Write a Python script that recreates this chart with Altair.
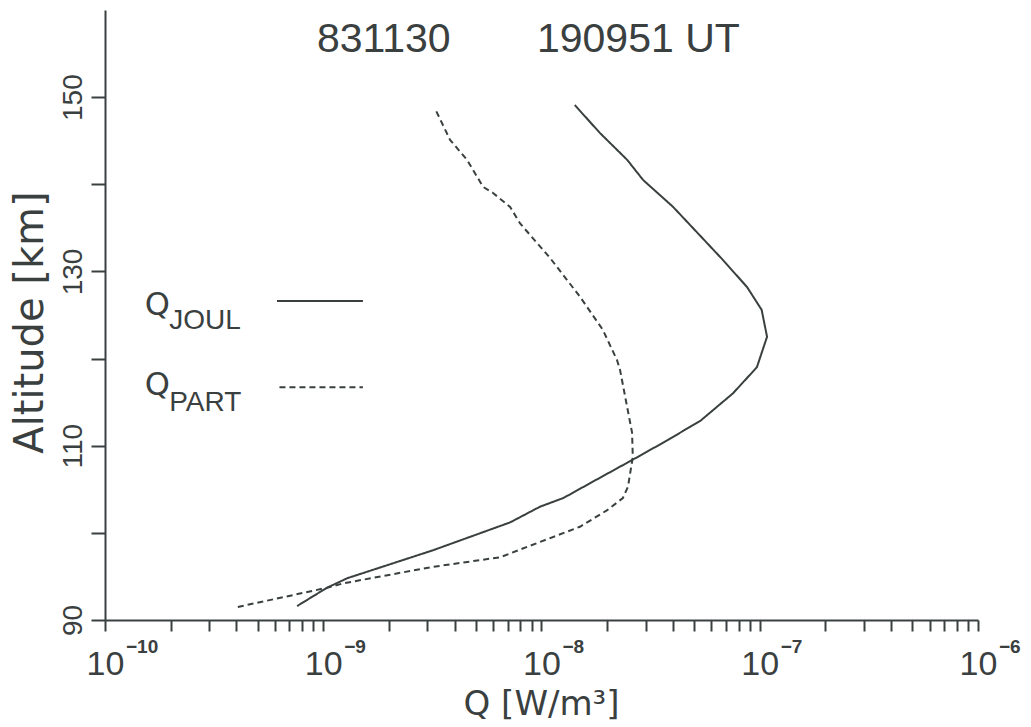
import altair as alt
import pandas as pd

# ---- data ----
joul_q = [7.59e-10, 1.04e-9, 1.29e-9, 3.18e-9, 7.18e-9, 9.84e-9, 1.26e-8, 1.67e-8,
          2.62e-8, 3.76e-8, 5.37e-8, 7.53e-8, 9.70e-8, 1.08e-7, 1.02e-7, 8.75e-8,
          6.79e-8, 4.01e-8, 2.92e-8, 2.47e-8, 1.85e-8, 1.42e-8]
joul_alt = [91.6, 93.7, 94.8, 98.0, 101.2, 103.0, 104.0, 105.7, 108.4, 110.6, 112.9,
            116.0, 119.0, 122.5, 125.6, 128.2, 131.3, 137.4, 140.5, 142.8, 145.9, 149.1]

part_q = [4.06e-10, 1.04e-9, 1.23e-9, 3.18e-9, 6.46e-9, 9.48e-9, 1.50e-8, 2.00e-8,
          2.36e-8, 2.49e-8, 2.62e-8, 2.60e-8, 2.29e-8, 2.22e-8, 1.91e-8, 1.50e-8,
          1.09e-8, 7.98e-9, 7.18e-9, 6.00e-9, 5.40e-9, 4.56e-9, 3.81e-9, 3.25e-9]
part_alt = [91.5, 93.7, 94.2, 96.1, 97.2, 98.8, 100.7, 102.6, 104.0, 105.3, 108.7,
            111.5, 118.7, 119.8, 123.3, 127.1, 131.6, 135.5, 137.4, 139.0, 139.7,
            142.8, 145.1, 148.7]

series_names = ["Q_JOUL", "Q_PART"]
decades = [-10, -9, -8, -7, -6]
decade_exponents = ["−10", "−9", "−8", "−7", "−6"]
y_ticks = [90, 100, 110, 120, 130, 140, 150]

title_texts = ["831130", "190951 UT"]
title_q = [9.35e-10, 9.53e-9]
title_alt = 155.2

legend_main = ["Q", "Q"]
legend_sub = ["JOUL", "PART"]
legend_main_q = [1.52e-10, 1.52e-10]
legend_main_alt = [125.0, 115.8]
legend_sub_q = [1.97e-10, 1.97e-10]
legend_sub_alt = [123.4, 114.0]
legend_line_q1 = [6.14e-10, 6.3e-10]
legend_line_q2 = [1.52e-9, 1.52e-9]
legend_line_alt = [126.6, 116.7]

# ---- tables ----
rows = []
for i, (q, a) in enumerate(zip(joul_q, joul_alt)):
    rows.append({"Q": q, "alt": a, "series": series_names[0], "i": i})
for i, (q, a) in enumerate(zip(part_q, part_alt)):
    rows.append({"Q": q, "alt": a, "series": series_names[1], "i": i})
df = pd.DataFrame(rows)

x_ticks = [k * 10.0 ** d for d in decades[:-1] for k in range(1, 10)] + [10.0 ** decades[-1]]
label_expr = ("abs(log(datum.value)/LN10 - round(log(datum.value)/LN10)) < 0.01"
              " ? '10' : ''")

INK = "#3a4040"
FONT = "Liberation Sans"
WIDE = "DejaVu Sans"

xscale = alt.Scale(type="log", domain=[1e-10, 1e-6], nice=False)
yscale = alt.Scale(domain=[90, 160], nice=False, zero=False)
dash_scale = alt.Scale(domain=series_names, range=[[1, 0], [6, 4]])

lines = alt.Chart(df).mark_line(color=INK, strokeWidth=2).encode(
    x=alt.X("Q:Q", scale=xscale,
            axis=alt.Axis(values=x_ticks, labelExpr=label_expr, title="Q  [W/m³]",
                          tickSize=11, labelFontSize=34, labelPadding=43,
                          labelBaseline="alphabetic", labelAlign="center",
                          labelFlush=False, labelOverlap=False,
                          titleFont=WIDE, titleFontSize=34, titleFontWeight="normal",
                          titleX=436, titleY=84, titleBaseline="middle")),
    y=alt.Y("alt:Q", scale=yscale,
            axis=alt.Axis(values=y_ticks,
                          labelExpr="(datum.value % 20 == 10) ? datum.label : ''",
                          title="Altitude [km]", tickSize=14, labelAngle=270,
                          labelFontSize=28, labelPadding=4,
                          titleFont=WIDE, titleFontSize=40,
                          titleFontWeight="normal", titleAngle=270, titleX=-75,
                          titleY=312, titleAlign="center", titleBaseline="middle")),
    strokeDash=alt.StrokeDash("series:N", scale=dash_scale, legend=None),
    order="alt:Q",
)

exp_df = pd.DataFrame({"Q": [10.0 ** d for d in decades], "alt": [90] * len(decades),
                       "t": decade_exponents})
exps = alt.Chart(exp_df).mark_text(fontSize=19, font=FONT, color=INK, fontWeight="bold",
                                   align="left", baseline="alphabetic", dx=21, dy=33).encode(
    x=alt.X("Q:Q", scale=xscale), y=alt.Y("alt:Q", scale=yscale), text="t:N")

title_df = pd.DataFrame({"t": title_texts, "Q": title_q, "alt": [title_alt] * 2})
titles = alt.Chart(title_df).mark_text(fontSize=41, font=FONT, color=INK,
                                       align="left", baseline="alphabetic").encode(
    x=alt.X("Q:Q", scale=xscale), y=alt.Y("alt:Q", scale=yscale), text="t:N")

lm_df = pd.DataFrame({"t": legend_main, "Q": legend_main_q, "alt": legend_main_alt})
leg_main = alt.Chart(lm_df).mark_text(fontSize=32, font=WIDE, color=INK,
                                      align="left", baseline="alphabetic").encode(
    x=alt.X("Q:Q", scale=xscale), y=alt.Y("alt:Q", scale=yscale), text="t:N")

ls_df = pd.DataFrame({"t": legend_sub, "Q": legend_sub_q, "alt": legend_sub_alt})
leg_sub = alt.Chart(ls_df).mark_text(fontSize=28, font=FONT, color=INK,
                                     align="left", baseline="alphabetic").encode(
    x=alt.X("Q:Q", scale=xscale), y=alt.Y("alt:Q", scale=yscale), text="t:N")

ll_df = pd.DataFrame({"Q": legend_line_q1, "Q2": legend_line_q2, "alt": legend_line_alt,
                      "series": series_names})
leg_lines = alt.Chart(ll_df).mark_rule(color=INK, strokeWidth=2).encode(
    x=alt.X("Q:Q", scale=xscale), x2="Q2:Q", y=alt.Y("alt:Q", scale=yscale),
    strokeDash=alt.StrokeDash("series:N", scale=dash_scale, legend=None))

chart = alt.layer(lines, exps, titles, leg_main, leg_sub, leg_lines).properties(
    width=873, height=610,
    autosize=alt.AutoSizeParams(type="none"),
    padding={"left": 105, "top": 10, "right": 53, "bottom": 107},
    background="white",
).configure_view(stroke=None).configure_axis(
    grid=False, domainColor=INK, domainWidth=2, tickColor=INK, tickWidth=2,
    labelColor=INK, titleColor=INK, labelFont=FONT, titleFont=FONT,
)

chart.save("out.html", embed_options={"renderer": "svg", "actions": False})
